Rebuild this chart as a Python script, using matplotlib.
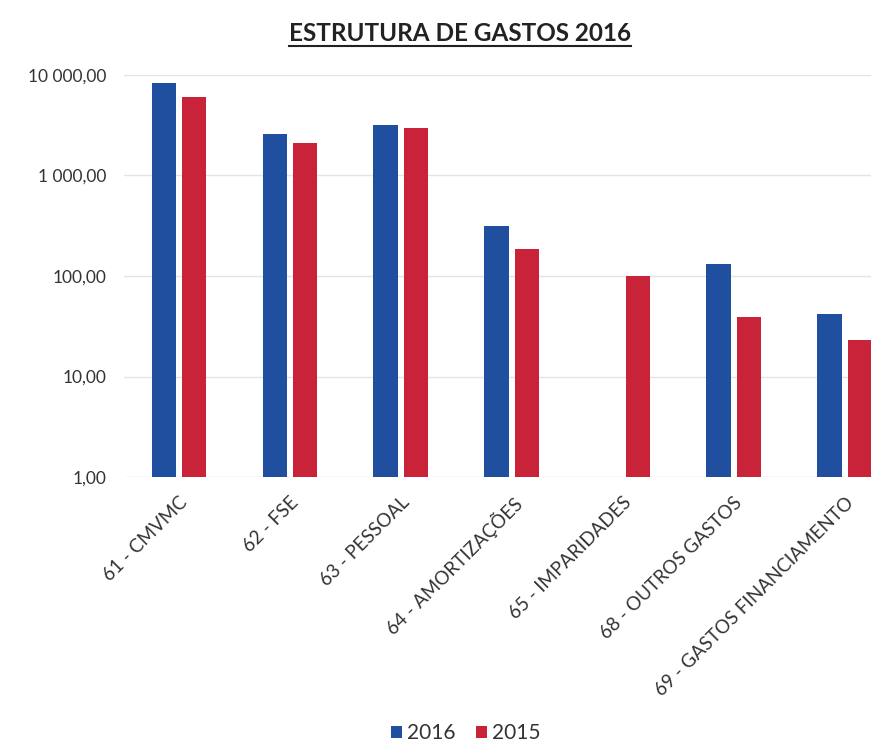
import numpy as np
import matplotlib.pyplot as plt
from matplotlib.lines import Line2D
from matplotlib.ticker import FixedLocator, NullLocator

plt.rcParams['font.family'] = ['Lato', 'DejaVu Sans']

categorias = ['61 - CMVMC', '62 - FSE', '63 - PESSOAL', '64 - AMORTIZAÇÕES',
              '65 - IMPARIDADES', '68 - OUTROS GASTOS', '69 - GASTOS FINANCIAMENTO']
gastos_2016 = [8300, 2600, 3150, 315, np.nan, 132, 41]
gastos_2015 = [6000, 2100, 2950, 186, 100, 38, 22]
ticks_y = [1, 10, 100, 1000, 10000]
ticks_y_txt = ['1,00', '10,00', '100,00', '1 000,00', '10 000,00']

azul = '#1f4f9e'
vermelho = '#c9233a'

fig = plt.figure(figsize=(8.71, 7.42), dpi=100)
# the plot runs off the right edge of the figure on purpose
ax = fig.add_axes([0.1418, 0.357, 0.8915, 0.542])

x = np.arange(len(categorias))
w = 0.22
ax.bar(x - 0.137, gastos_2016, w, bottom=1, color=azul, label='2016', zorder=3)
ax.bar(x + 0.137, gastos_2015, w, bottom=1, color=vermelho, label='2015', zorder=3)

ax.set_yscale('log')
ax.set_ylim(1, 10000)
ax.set_xlim(-0.5, len(categorias) - 0.5)
ax.yaxis.set_major_locator(FixedLocator(ticks_y))
ax.yaxis.set_minor_locator(NullLocator())
ax.set_yticklabels(ticks_y_txt, fontsize=12.5, color='#333333')
ax.tick_params(axis='y', length=0, pad=12)
ax.tick_params(axis='x', length=0, pad=12)
ax.set_xticks(x)
ax.set_xticklabels(categorias, rotation=45, ha='right', rotation_mode='anchor',
                   fontsize=13.5, color='#333333')
ax.grid(axis='y', color='#e4e4e4', linewidth=1, zorder=0)
for s in ax.spines.values():
    s.set_visible(False)

titulo = fig.text(0.528, 0.955, 'ESTRUTURA DE GASTOS 2016', ha='center', va='center',
                  fontsize=17.5, fontweight='bold', color='#222222')
fig.canvas.draw()
bb = titulo.get_window_extent().transformed(fig.transFigure.inverted())
fig.add_artist(Line2D([bb.x0, bb.x1], [bb.y0 - 0.002, bb.y0 - 0.002],
                      transform=fig.transFigure, color='#222222', linewidth=1.5))

fig.legend(loc='center', bbox_to_anchor=(0.535, 0.012), ncol=2, frameon=False,
           fontsize=15, handlelength=0.5, handleheight=0.5, handletextpad=0.25,
           columnspacing=1.0, labelcolor='#333333')

fig.savefig('out.png', dpi=100)
